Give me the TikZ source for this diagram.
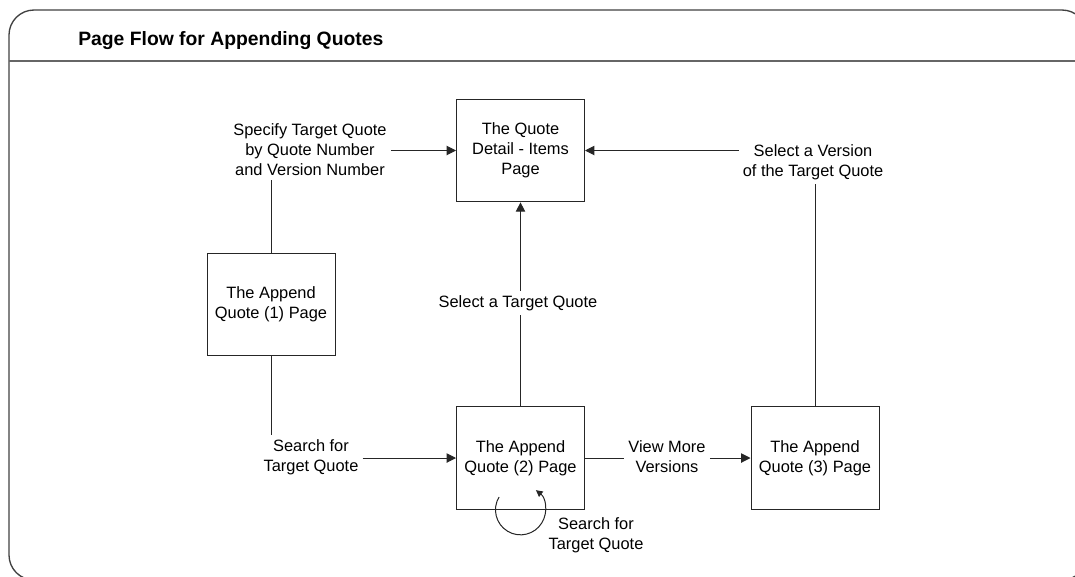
\documentclass[tikz,border=0pt]{standalone}
\usepackage{fontspec}
\setmainfont{Liberation Sans}
\usetikzlibrary{arrows.meta,calc}
\begin{document}
\begin{tikzpicture}[x=0.75pt,y=0.75pt,
  txt/.style={font=\fontsize{12.3}{15}\selectfont},
  page/.style={txt,draw=black!85,line width=0.75pt,minimum width=96pt,minimum height=77pt,align=center,inner sep=0pt},
  lbl/.style={txt,align=center,inner sep=3pt},
  link/.style={draw=black!85,line width=0.75pt},
  flow/.style={link,-{Triangle[length=7pt,width=7pt]}},
  loopflow/.style={link,-{Triangle[length=5pt,width=5pt]}},
]
\useasboundingbox (0,0) rectangle (1075,-576);
% outer panel with title bar
\begin{scope}
  \clip (0,0) rectangle (1075,-576);
  \draw[black!75,line width=1pt,rounded corners=18.75pt] (9,-10) rectangle (1087,-580);
  \draw[black!60,line width=1.5pt] (9,-61) -- (1085,-61);
\end{scope}
\node[anchor=west,inner sep=0pt,font=\fontsize{14.5}{17}\selectfont\bfseries] (title) at (78,-41) {Page Flow for Appending Quotes};

% pages
\node[page] (detail) at (520.5,-150.5) {The Quote\\Detail - Items\\Page};
\node[page] (a1) at (271,-304.5) {The Append\\Quote (1) Page};
\node[page] (a2) at (520.5,-458) {The Append\\Quote (2) Page};
\node[page] (a3) at (815,-458) {The Append\\Quote (3) Page};

% transition labels
\node[lbl] (spec) at (310,-150) {Specify Target Quote\\by Quote Number\\and Version Number};
\node[lbl] (ver) at (813,-162) {Select a Version\\of the Target Quote};
\node[lbl] (sel) at (518,-303) {Select a Target Quote};
\node[lbl] (srch1) at (311,-457) {Search for\\Target Quote};
\node[lbl] (view) at (667,-457) {View More\\Versions};
\node[lbl] (srch2) at (596,-535) {Search for\\Target Quote};

% transitions
\draw[link] (a1.north) -- (a1.north |- spec.south);
\draw[flow] (spec.east |- detail.west) -- (detail.west);
\draw[link] (a3.north) -- (a3.north |- ver.south);
\draw[flow] (ver.west |- detail.east) -- (detail.east);
\draw[link] (a2.north) -- (a2.north |- sel.south);
\draw[flow] (a2.north |- sel.north) -- (detail.south);
\draw[link] (a1.south) -- (a1.south |- srch1.north);
\draw[flow] (srch1.east |- a2.west) -- (a2.west);
\draw[link] (a2.east) -- (view.west |- a2.east);
\draw[flow] (view.east |- a3.west) -- (a3.west);
\draw[loopflow] ($(a2.south)+(149:25)$) arc[start angle=149,end angle=412,radius=18.75pt];
\end{tikzpicture}
\end{document}
